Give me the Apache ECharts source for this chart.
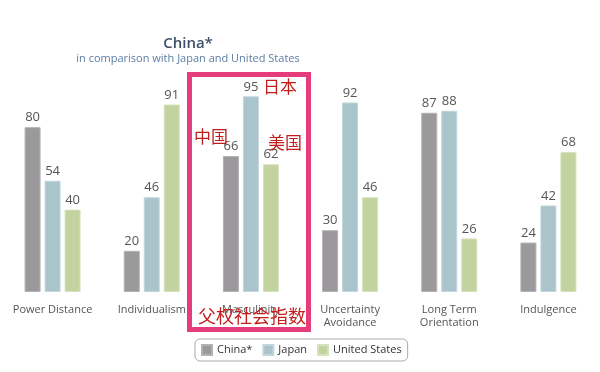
<!DOCTYPE html>
<html>
<head>
<meta charset="utf-8">
<script src="https://cdn.jsdelivr.net/npm/echarts@6/dist/echarts.min.js"></script>
<style>
html,body{margin:0;padding:0;background:#fff;}
#chart{width:600px;height:372px;}
</style>
</head>
<body>
<div id="chart"></div>
<script>
var categories = ['Power Distance', 'Individualism', 'Masculinity', 'Uncertainty\nAvoidance', 'Long Term\nOrientation', 'Indulgence'];
var seriesNames = ['China*', 'Japan', 'United States'];
var chinaValues = [80, 20, 66, 30, 87, 24];
var japanValues = [54, 46, 95, 92, 88, 42];
var usValues = [40, 91, 62, 46, 26, 68];
var colors = ['#9b999b', '#aac4cc', '#c3d3a0'];
var borderColors = ['#b3b1b3', '#c3d6dc', '#d6e2bd'];

var FONT = '"Open Sans", "Noto Sans", sans-serif';
var CJK = '"Noto Sans CJK SC", sans-serif';

function makeSeries(name, data, i) {
  return {
    name: name,
    type: 'bar',
    data: data,
    barWidth: 16,
    barGap: '25%',
    itemStyle: { color: colors[i], borderColor: borderColors[i], borderWidth: 1 },
    label: {
      show: true, position: 'top', distance: 3,
      color: '#555', fontSize: 13, fontFamily: FONT
    },
    emphasis: { disabled: true }
  };
}

var chart = echarts.init(document.getElementById('chart'), null, { renderer: 'canvas' });
chart.setOption({
  animation: false,
  backgroundColor: '#fff',
  title: [
    { text: 'China*', left: 183, top: 31, textAlign: 'center',
      textStyle: { color: '#3d4f66', fontSize: 15, fontWeight: 600, fontFamily: FONT } },
    { text: 'in comparison with Japan and United States', left: 183, top: 48, textAlign: 'center',
      textStyle: { color: '#5b7ea3', fontSize: 11, fontWeight: 'normal', fontFamily: FONT } }
  ],
  legend: {
    data: seriesNames,
    left: 195, top: 339,
    itemWidth: 10, itemHeight: 10, itemGap: 10,
    padding: [5, 6],
    borderColor: '#aaa', borderWidth: 1, borderRadius: 5,
    textStyle: { color: '#333', fontSize: 11, fontFamily: FONT },
    icon: 'rect'
  },
  grid: { left: 3, right: 2, top: 86, bottom: 80, containLabel: false },
  xAxis: {
    type: 'category',
    data: categories,
    axisLine: { show: false },
    axisTick: { show: false },
    axisLabel: { color: '#555', fontSize: 11, fontFamily: FONT, margin: 11, lineHeight: 13, interval: 0 }
  },
  yAxis: {
    type: 'value', min: 0, max: 100, show: false,
    splitLine: { show: false }
  },
  series: [
    makeSeries(seriesNames[0], chinaValues, 0),
    makeSeries(seriesNames[1], japanValues, 1),
    makeSeries(seriesNames[2], usValues, 2)
  ],
  graphic: [
    { type: 'rect', shape: { x: 189.5, y: 74.5, width: 119, height: 255 },
      style: { fill: 'none', stroke: '#e53c7c', lineWidth: 5 }, z: 100 },
    { type: 'text', x: 280, y: 87, z: 101,
      style: { text: '日本', fill: '#c21e1e', font: '17px ' + CJK, textAlign: 'center', textVerticalAlign: 'middle' } },
    { type: 'text', x: 211, y: 137, z: 101,
      style: { text: '中国', fill: '#c21e1e', font: '17px ' + CJK, textAlign: 'center', textVerticalAlign: 'middle' } },
    { type: 'text', x: 285, y: 143, z: 101,
      style: { text: '美国', fill: '#c21e1e', font: '17px ' + CJK, textAlign: 'center', textVerticalAlign: 'middle' } },
    { type: 'text', x: 252, y: 316, z: 101,
      style: { text: '父权社会指数', fill: '#c21e1e', font: '18px ' + CJK, textAlign: 'center', textVerticalAlign: 'middle' } }
  ]
});
</script>
</body>
</html>
